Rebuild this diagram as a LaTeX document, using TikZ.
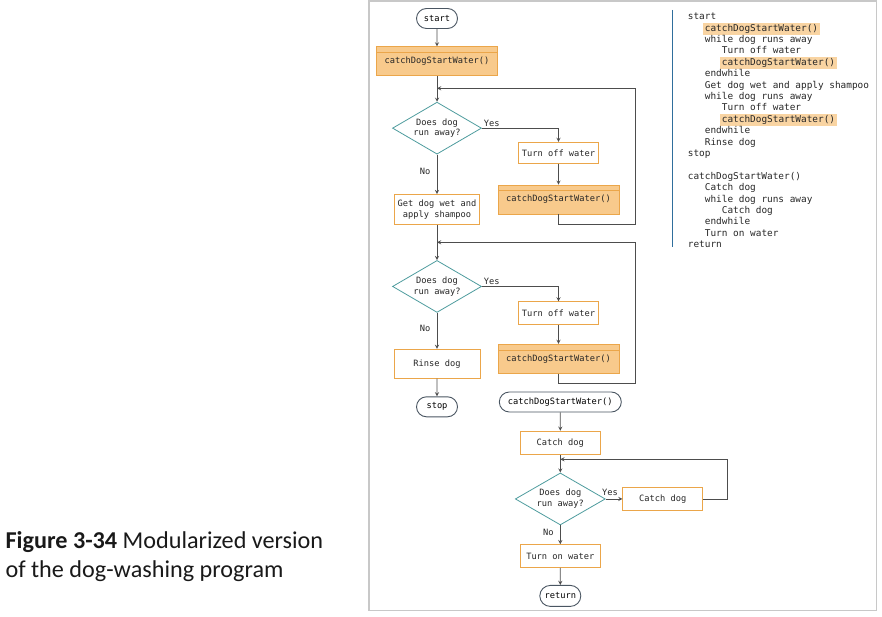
\documentclass[tikz,border=0pt]{standalone}
\usepackage{fontspec}
\setmonofont{DejaVu Sans Mono}
\newfontfamily\capfont{Carlito}
\usepackage{xcolor}
\usetikzlibrary{shapes.geometric, shapes.misc, arrows, positioning}

\definecolor{boxorange}{HTML}{EBA64A}
\definecolor{modfill}{HTML}{F8CA8C}
\definecolor{decteal}{HTML}{4E9C9E}
\definecolor{termgray}{HTML}{4A5662}
\definecolor{linegray}{HTML}{4D4D4D}
\definecolor{hlorange}{HTML}{F9D4A2}
\definecolor{codeblue}{HTML}{2F6E9C}
\definecolor{framegray}{HTML}{C8C8C8}

\newcommand{\ind}{\hspace*{17pt}}
\newcommand{\hlcode}[1]{\kern-1.5pt{\setlength{\fboxsep}{1.5pt}\smash{\colorbox{hlorange}{#1}}}}

\begin{document}
\begin{tikzpicture}[
    x=1pt, y=1pt,
    font=\ttfamily\fontsize{8.7}{10.8}\selectfont,
    terminal/.style={rounded rectangle, draw=termgray, fill=white, line width=0.9pt, minimum height=20pt, minimum width=43pt, inner xsep=1pt},
    process/.style={rectangle, draw=boxorange, fill=white, line width=0.8pt, minimum width=80pt, minimum height=22pt, align=center, text=black!85},
    module/.style={process, fill=modfill, minimum width=121pt, minimum height=29pt,
        path picture={\draw[boxorange, line width=0.6pt] ([yshift=-5.6pt]path picture bounding box.north west) -- ([yshift=-5.6pt]path picture bounding box.north east);}},
    decision/.style={diamond, draw=decteal, fill=white, line width=0.8pt, aspect=1.7, inner sep=0pt, minimum width=89pt, minimum height=52pt, align=center, text=black!85},
    arrow/.style={->, >=stealth, draw=linegray, line width=0.85pt},
    lbl/.style={text=black!85}
]
\useasboundingbox (0,0) rectangle (882,-617);

% Frame
\draw[framegray, line width=1.2pt] (369,-1) rectangle (876.7,-610.7);

% Caption
\node[anchor=west, align=left, font=\capfont\fontsize{24.2}{29}\selectfont, text=black!90] (caption) at (2,-557) {\textbf{Figure 3-34} Modularized version\\of the dog-washing program};

% Main program
\node[terminal] (start) at (437,-18.5) {start};
\node[module, below=17.5pt of start] (cdsw1) {catchDogStartWater()};
\node[decision, below=25.5pt of cdsw1] (run1) {Does dog\\run away?};
\node[process, minimum width=85pt, minimum height=30pt, below=39.5pt of run1] (wet) {Get dog wet and\\apply shampoo};
\node[decision, below=35.2pt of wet] (run2) {Does dog\\run away?};
\node[process, minimum width=86pt, minimum height=29pt, below=36pt of run2] (rinse) {Rinse dog};
\node[terminal, below=17.7pt of rinse] (stop) {stop};

% First loop body
\node[process, minimum height=21pt] (off1) at (558.5,-152.8) {Turn off water};
\node[module, below=21pt of off1] (cdsw2) {catchDogStartWater()};

% Second loop body
\node[process, minimum height=23pt] (off2) at (558.5,-313.3) {Turn off water};
\node[module, below=18.7pt of off2] (cdsw3) {catchDogStartWater()};

% Module
\node[terminal, minimum width=124pt] (sub) at (560.3,-402) {catchDogStartWater()};
\node[process, minimum height=23pt, below=18.3pt of sub] (catchA) {Catch dog};
\node[decision, minimum width=90pt, below=18pt of catchA] (run3) {Does dog\\run away?};
\node[process, minimum height=23pt, right=16.7pt of run3] (catchB) {Catch dog};
\node[process, minimum height=23pt, below=18.8pt of run3] (turnon) {Turn on water};
\node[terminal, minimum height=21pt, below=17pt of turnon] (ret) {return};

% Loop corners
\coordinate (loop1) at (635.7,-88.3);
\coordinate (loop2) at (635.7,-242.3);
\coordinate (loop3) at (727.7,-459.3);

% Arrows
\draw[arrow] (start) -- (cdsw1);
\draw[arrow] (cdsw1) -- (run1);
\draw[arrow] (run1.east) -| node[lbl, above right, pos=0, inner sep=1.5pt] {Yes} (off1);
\draw[arrow] (off1) -- (cdsw2);
\draw[arrow] (cdsw2.south) -- ++(0,-10) -| (loop1) -- (loop1 -| run1.north);
\draw[arrow] (run1) -- node[lbl, left=3pt, pos=0.43] {No} (wet);
\draw[arrow] (wet) -- (run2);
\draw[arrow] (run2.east) -| node[lbl, above right, pos=0, inner sep=1.5pt] {Yes} (off2);
\draw[arrow] (off2) -- (cdsw3);
\draw[arrow] (cdsw3.south) -- ++(0,-10) -| (loop2) -- (loop2 -| run2.north);
\draw[arrow] (run2) -- node[lbl, left=3pt, pos=0.42] {No} (rinse);
\draw[arrow] (rinse) -- (stop);
\draw[arrow] (sub) -- (catchA);
\draw[arrow] (catchA) -- (run3);
\draw[arrow] (run3) -- node[lbl, above, pos=0.25] {Yes} (catchB);
\draw[arrow] (catchB.east) -| (loop3) -- (loop3 -| run3.north);
\draw[arrow] (run3) -- node[lbl, left=3pt, pos=0.39] {No} (turnon);
\draw[arrow] (turnon) -- (ret);

% Pseudocode
\draw[codeblue, line width=1.6pt] (672.3,-10) -- (672.3,-246.7);
\node[anchor=north west, align=left, inner sep=0pt, font=\ttfamily\fontsize{9.4}{11.4}\selectfont, text=black!85] (code) at (687.7,-13) {%
start\\
\ind\hlcode{catchDogStartWater()}\\
\ind while dog runs away\\
\ind\ind Turn off water\\
\ind\ind\hlcode{catchDogStartWater()}\\
\ind endwhile\\
\ind Get dog wet and apply shampoo\\
\ind while dog runs away\\
\ind\ind Turn off water\\
\ind\ind\hlcode{catchDogStartWater()}\\
\ind endwhile\\
\ind Rinse dog\\
stop\\
\mbox{}\\
catchDogStartWater()\\
\ind Catch dog\\
\ind while dog runs away\\
\ind\ind Catch dog\\
\ind endwhile\\
\ind Turn on water\\
return};

\end{tikzpicture}
\end{document}
